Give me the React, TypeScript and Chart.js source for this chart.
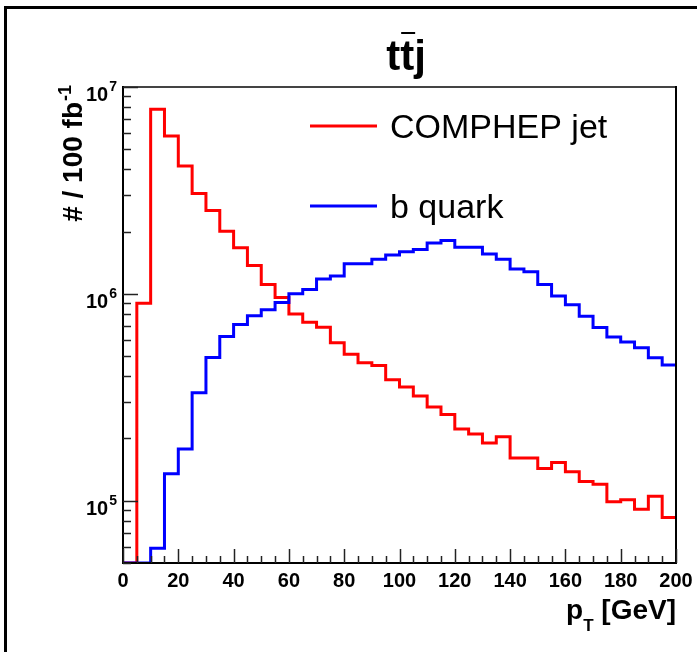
import { useEffect, useRef } from 'react';
import { Chart, registerables } from 'chart.js';

Chart.register(...registerables);

// ---- data ----
const BIN_LOW = [
  0, 5, 10, 15, 20, 25, 30, 35, 40, 45,
  50, 55, 60, 65, 70, 75, 80, 85, 90, 95,
  100, 105, 110, 115, 120, 125, 130, 135, 140, 145,
  150, 155, 160, 165, 170, 175, 180, 185, 190, 195,
];
const BIN_WIDTH = 5;

const COMPHEP_JET = [
  0, 9.0e5, 7.8e6, 5.8e6, 4.15e6, 3.06e6, 2.53e6, 2.01e6, 1.67e6, 1.37e6,
  1.11e6, 9.6e5, 8.0e5, 7.3e5, 6.9e5, 5.8e5, 5.1e5, 4.65e5, 4.5e5, 3.84e5,
  3.55e5, 3.21e5, 2.84e5, 2.61e5, 2.22e5, 2.1e5, 1.9e5, 2.04e5, 1.61e5, 1.61e5,
  1.43e5, 1.53e5, 1.38e5, 1.24e5, 1.2e5, 9.9e4, 1.01e5, 9.1e4, 1.05e5, 8.3e4,
];

const B_QUARK = [
  0, 0, 5.9e4, 1.35e5, 1.78e5, 3.33e5, 4.92e5, 6.22e5, 7.11e5, 7.83e5,
  8.37e5, 9.08e5, 1.0e6, 1.05e6, 1.18e6, 1.22e6, 1.4e6, 1.4e6, 1.47e6, 1.54e6,
  1.6e6, 1.64e6, 1.76e6, 1.81e6, 1.68e6, 1.68e6, 1.56e6, 1.47e6, 1.32e6, 1.28e6,
  1.11e6, 9.77e5, 8.85e5, 7.8e5, 6.88e5, 6.18e5, 5.85e5, 5.49e5, 4.91e5, 4.53e5,
];

const SERIES_LABELS = ['COMPHEP jet', 'b quark'];
const SERIES_COLORS = ['#ff0000', '#0000ff'];

const X_MIN = 0;
const X_MAX = 200;
const Y_MIN = 5e4;
const Y_MAX = 1e7;

const X_MAJOR_TICKS = [0, 20, 40, 60, 80, 100, 120, 140, 160, 180, 200];
const X_MINOR_STEP = 5;
const Y_MAJOR_EXPONENTS = [5, 6, 7];

const TITLE_TEXT = ['t', 't', 'j'];
const Y_TITLE = '# / 100 fb';
const Y_TITLE_SUP = '-1';
const X_TITLE_MAIN = 'p';
const X_TITLE_SUB = 'T';
const X_TITLE_REST = ' [GeV]';

const FONT = '"Liberation Sans", Arial, Helvetica, sans-serif';

function histPoints(vals: number[]) {
  const pts = BIN_LOW.map((x, i) => ({ x, y: Math.max(vals[i], Y_MIN) }));
  const last = vals.length - 1;
  pts.push({ x: BIN_LOW[last] + BIN_WIDTH, y: Math.max(vals[last], Y_MIN) });
  return pts;
}

const rootStyle = {
  id: 'rootStyle',
  beforeDraw(chart: any) {
    const ctx = chart.ctx as CanvasRenderingContext2D;
    ctx.save();
    ctx.fillStyle = '#ffffff';
    ctx.fillRect(0, 0, chart.width, chart.height);
    // outer pad border (left and top)
    ctx.strokeStyle = '#000000';
    ctx.lineWidth = 3;
    ctx.beginPath();
    ctx.moveTo(5.5, chart.height);
    ctx.lineTo(5.5, 7.5);
    ctx.lineTo(chart.width, 7.5);
    ctx.stroke();
    ctx.restore();
  },
  afterDatasetsDraw(chart: any) {
    const ctx = chart.ctx as CanvasRenderingContext2D;
    const { left, right, top, bottom } = chart.chartArea;
    const xs = chart.scales.x;
    const ys = chart.scales.y;
    ctx.save();

    // frame
    ctx.lineCap = 'square';
    ctx.strokeStyle = '#444444';
    ctx.lineWidth = 2;
    ctx.beginPath();
    ctx.moveTo(left, top);
    ctx.lineTo(right, top);
    ctx.stroke();
    ctx.strokeStyle = '#000000';
    ctx.beginPath();
    ctx.moveTo(right, top);
    ctx.lineTo(right, bottom);
    ctx.stroke();
    ctx.beginPath();
    ctx.moveTo(left, top);
    ctx.lineTo(left, bottom);
    ctx.lineTo(right, bottom);
    ctx.stroke();

    // x ticks
    ctx.lineCap = 'butt';
    ctx.strokeStyle = '#222222';
    ctx.lineWidth = 1.5;
    for (let v = X_MIN; v <= X_MAX + 1e-9; v += X_MINOR_STEP) {
      const px = Math.round(xs.getPixelForValue(v)) + 0.5;
      const major = X_MAJOR_TICKS.includes(v);
      ctx.beginPath();
      ctx.moveTo(px, bottom);
      ctx.lineTo(px, bottom - (major ? 14 : 7));
      ctx.stroke();
    }
    // y ticks
    for (let e = Math.floor(Math.log10(Y_MIN)); e <= Math.log10(Y_MAX); e++) {
      for (let m = 1; m <= 9; m++) {
        const v = m * Math.pow(10, e);
        if (v < Y_MIN * 0.999 || v > Y_MAX * 1.001) continue;
        const py = Math.round(ys.getPixelForValue(v)) + 0.5;
        ctx.beginPath();
        ctx.moveTo(left, py);
        ctx.lineTo(left + (m === 1 ? 15 : 8), py);
        ctx.stroke();
      }
    }

    ctx.fillStyle = '#000000';
    // x tick labels
    ctx.font = `bold 20px ${FONT}`;
    ctx.textAlign = 'center';
    ctx.textBaseline = 'alphabetic';
    X_MAJOR_TICKS.forEach((v) => {
      ctx.fillText(String(v), xs.getPixelForValue(v), bottom + 24);
    });
    // y tick labels 10^n
    Y_MAJOR_EXPONENTS.forEach((e) => {
      const py = ys.getPixelForValue(Math.pow(10, e));
      ctx.font = `bold 14px ${FONT}`;
      const we = ctx.measureText(String(e)).width;
      const xr = left - 6;
      ctx.textAlign = 'left';
      ctx.fillText(String(e), xr - we, py + 4);
      ctx.font = `bold 20px ${FONT}`;
      ctx.textAlign = 'right';
      ctx.fillText('10', xr - we - 1, py + 14);
    });

    // x title
    ctx.textAlign = 'left';
    ctx.font = `bold 28px ${FONT}`;
    const wMain = ctx.measureText(X_TITLE_MAIN).width;
    const wRest = ctx.measureText(X_TITLE_REST).width;
    ctx.font = `bold 17px ${FONT}`;
    const wSub = ctx.measureText(X_TITLE_SUB).width;
    let tx = right - (wMain + wSub + wRest);
    const tb = bottom + 56;
    ctx.font = `bold 28px ${FONT}`;
    ctx.fillText(X_TITLE_MAIN, tx, tb);
    tx += wMain;
    ctx.font = `bold 17px ${FONT}`;
    ctx.fillText(X_TITLE_SUB, tx, tb + 12);
    tx += wSub;
    ctx.font = `bold 28px ${FONT}`;
    ctx.fillText(X_TITLE_REST, tx, tb);

    // y title (rotated)
    ctx.save();
    ctx.font = `bold 28px ${FONT}`;
    const wy = ctx.measureText(Y_TITLE).width;
    ctx.font = `bold 18px ${FONT}`;
    const wys = ctx.measureText(Y_TITLE_SUP).width;
    ctx.translate(82, top - 2 + wy + wys + 1);
    ctx.rotate(-Math.PI / 2);
    ctx.textAlign = 'left';
    ctx.font = `bold 28px ${FONT}`;
    ctx.fillText(Y_TITLE, 0, 0);
    ctx.font = `bold 18px ${FONT}`;
    ctx.fillText(Y_TITLE_SUP, wy + 1, -11);
    ctx.restore();

    // title  t tbar j
    ctx.font = `bold 42px ${FONT}`;
    ctx.textAlign = 'left';
    const widths = TITLE_TEXT.map((c) => ctx.measureText(c).width);
    const total = widths.reduce((a, b) => a + b, 0);
    let cx = 406 - total / 2;
    const base = 70;
    TITLE_TEXT.forEach((c, i) => {
      ctx.fillText(c, cx, base);
      if (i === 1) {
        ctx.lineWidth = 2;
        ctx.strokeStyle = '#000000';
        ctx.beginPath();
        ctx.moveTo(cx + 1, 33);
        ctx.lineTo(cx + widths[i] + 1, 33);
        ctx.stroke();
      }
      cx += widths[i];
    });

    // legend
    const legendRows = [126, 206];
    chart.data.datasets.forEach((ds: any, i: number) => {
      const ly = legendRows[i];
      ctx.strokeStyle = ds.borderColor;
      ctx.lineWidth = 3;
      ctx.beginPath();
      ctx.moveTo(310, ly);
      ctx.lineTo(377, ly);
      ctx.stroke();
      ctx.fillStyle = '#000000';
      ctx.font = `34px ${FONT}`;
      ctx.textAlign = 'left';
      ctx.fillText(ds.label, 390, ly + 12);
    });

    ctx.restore();
  },
};

export default function App() {
  const ref = useRef<HTMLCanvasElement | null>(null);

  useEffect(() => {
    if (!ref.current) return;
    const chart = new Chart(ref.current, {
      type: 'line',
      data: {
        datasets: [
          {
            label: SERIES_LABELS[0],
            data: histPoints(COMPHEP_JET),
            borderColor: SERIES_COLORS[0],
            borderWidth: 3,
            stepped: true,
            pointRadius: 0,
            fill: false,
            borderJoinStyle: 'miter',
            borderCapStyle: 'butt',
            order: 1,
          },
          {
            label: SERIES_LABELS[1],
            data: histPoints(B_QUARK),
            borderColor: SERIES_COLORS[1],
            borderWidth: 3,
            stepped: true,
            pointRadius: 0,
            fill: false,
            borderJoinStyle: 'miter',
            borderCapStyle: 'butt',
            order: 0,
          },
        ],
      },
      options: {
        animation: false,
        responsive: false,
        devicePixelRatio: 1,
        events: [],
        layout: { padding: { left: 123, right: 21, top: 87, bottom: 89 } },
        scales: {
          x: { type: 'linear', min: X_MIN, max: X_MAX, display: false },
          y: { type: 'logarithmic', min: Y_MIN, max: Y_MAX, display: false },
        },
        plugins: {
          legend: { display: false },
          tooltip: { enabled: false },
          title: { display: false },
        },
      } as any,
      plugins: [rootStyle],
    });
    return () => chart.destroy();
  }, []);

  return (
    <div style={{ position: 'fixed', left: 0, top: 0, width: 697, height: 652, background: '#fff' }}>
      <canvas ref={ref} width={697} height={652} style={{ display: 'block' }} />
    </div>
  );
}
